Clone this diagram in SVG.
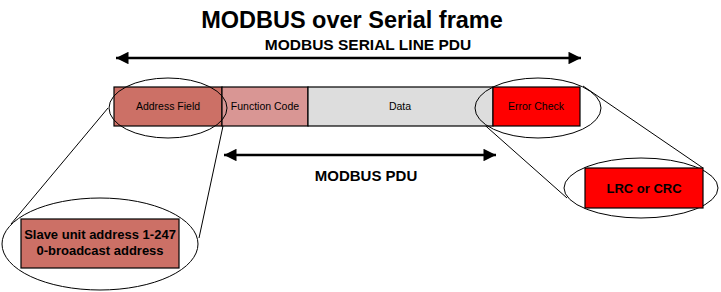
<svg xmlns="http://www.w3.org/2000/svg" width="721" height="292" viewBox="0 0 721 292">
<style>
.t{font-family:"Liberation Sans",Arial,sans-serif;fill:#000}
.b{font-weight:bold}
.f{font-size:10.5px}
.fld{stroke:#000;stroke-width:1.2}
.ell{fill:none;stroke:#000;stroke-width:1}
.ln{stroke:#000;stroke-width:1;fill:none}
.arr{stroke:#000;stroke-width:2.5;fill:none;marker-start:url(#ah);marker-end:url(#ah)}
</style>
<defs>
<marker id="ah" viewBox="0 0 10 10" refX="10" refY="5" markerWidth="6" markerHeight="5" orient="auto-start-reverse" markerUnits="strokeWidth">
<path d="M0,0 L10,5 L0,10 z" fill="#000"/>
</marker>
</defs>
<rect width="721" height="292" fill="#fff"/>
<text class="t b" x="352" y="28" font-size="23.5" text-anchor="middle">MODBUS over Serial frame</text>
<text class="t b" x="368" y="50" font-size="15.5" text-anchor="middle">MODBUS SERIAL LINE PDU</text>
<text class="t b" x="366" y="181" font-size="15" text-anchor="middle">MODBUS PDU</text>
<g id="connectors">
<line class="arr" x1="116" y1="58" x2="581" y2="58"/>
<line class="arr" x1="224" y1="155" x2="496" y2="155"/>
<line class="ln" x1="108" y1="108" x2="11" y2="224"/>
<line class="ln" x1="223" y1="126" x2="199" y2="238"/>
<line class="ln" x1="479" y1="120" x2="567" y2="198"/>
<line class="ln" x1="583" y1="86" x2="703" y2="168"/>
</g>
<g id="address-field">
<rect class="fld" x="114" y="87" width="108" height="39" fill="#CC7066"/>
<text class="t f" x="168" y="110" text-anchor="middle">Address Field</text>
</g>
<g id="function-code">
<rect class="fld" x="222" y="87" width="86" height="39" fill="#D99694"/>
<text class="t f" x="265" y="110" text-anchor="middle">Function Code</text>
</g>
<g id="data">
<rect class="fld" x="308" y="87" width="185" height="39" fill="#DDDDDD"/>
<text class="t f" x="400" y="110" text-anchor="middle">Data</text>
</g>
<g id="error-check">
<rect class="fld" x="493" y="87" width="87" height="39" fill="#FF0000"/>
<text class="t f" x="536" y="110" text-anchor="middle">Error Check</text>
</g>
<g id="address-ellipse">
<ellipse class="ell" cx="168" cy="108" rx="59" ry="30"/>
</g>
<g id="error-ellipse">
<ellipse class="ell" cx="538" cy="108" rx="63" ry="30"/>
</g>
<g id="slave-detail">
<ellipse class="ell" cx="100" cy="244" rx="98" ry="46"/>
<rect class="fld" x="21" y="219" width="158" height="49" fill="#CC7066"/>
<text class="t b" x="100" y="239" font-size="13" text-anchor="middle">Slave unit address 1-247</text>
<text class="t b" x="100" y="255" font-size="13" text-anchor="middle">0-broadcast address</text>
</g>
<g id="crc-detail">
<ellipse class="ell" cx="641" cy="188" rx="77" ry="30"/>
<rect class="fld" x="585" y="168" width="118" height="40" fill="#FF0000"/>
<text class="t b" x="644" y="193" font-size="13" text-anchor="middle">LRC or CRC</text>
</g>
</svg>
